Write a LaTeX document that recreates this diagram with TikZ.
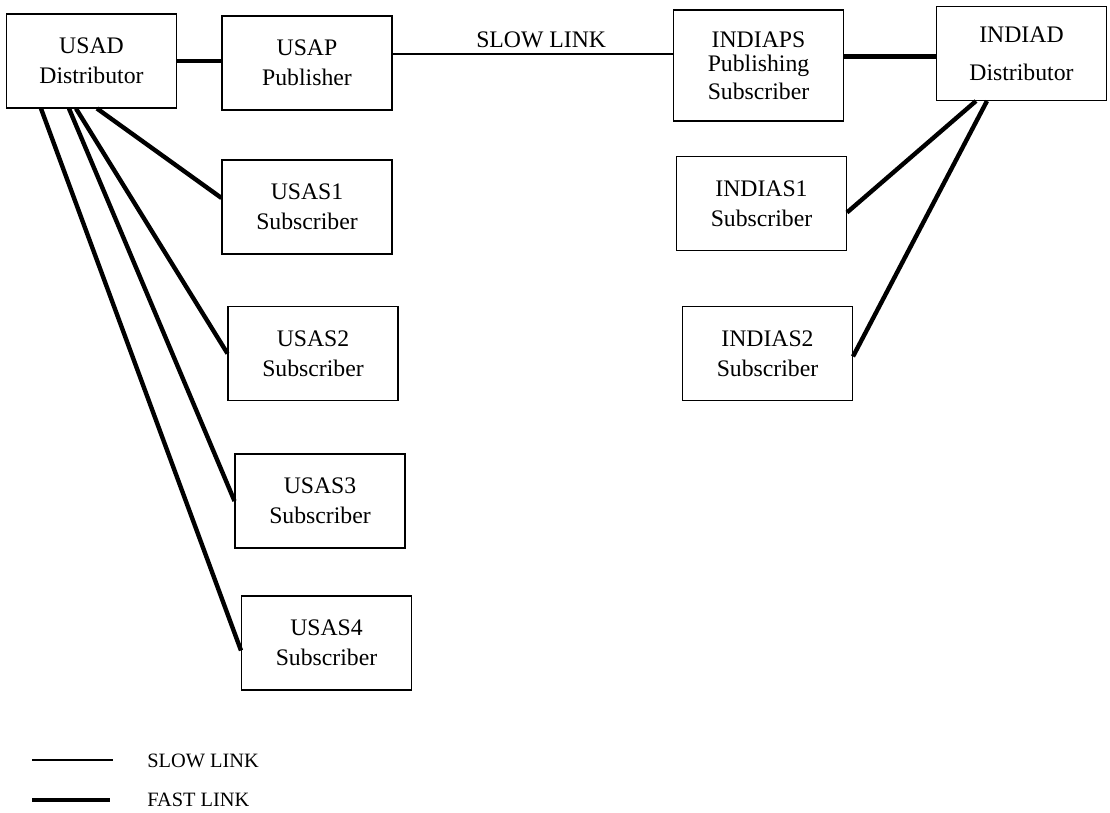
\documentclass[tikz,border=0pt]{standalone}
\usepackage{fontspec}
\setmainfont{Liberation Serif}

\begin{document}
\begin{tikzpicture}[x=0.02cm, y=-0.02cm,
  site/.style={shape=rectangle, draw, line width=0.6pt, inner sep=0pt,
    minimum width=3.4cm, minimum height=1.88cm, align=center,
    font=\fontsize{13.5}{17}\selectfont},
  slowlink/.style={line width=0.8pt},
  fastlink/.style={line width=2.5pt}]
\useasboundingbox (0,0) rectangle (1110,813);
\node     (usad) at (91.5, 61)   [site] {USAD\\Distributor};
\node     (usap) at (307, 63)    [site] {USAP\\Publisher};
\node    (usas1) at (307, 207)   [site] {USAS1\\Subscriber};
\node    (usas2) at (313, 353.5) [site] {USAS2\\Subscriber};
\node    (usas3) at (320, 501)   [site] {USAS3\\Subscriber};
\node    (usas4) at (326.5, 643) [site] {USAS4\\Subscriber};
\node  (indiaps) at (758.5, 65.5) [site, minimum height=2.22cm] {INDIAPS\\[-3.5pt]Publishing\\[-1pt]Subscriber};
\node   (indiad) at (1021.5, 53.5) [site] {INDIAD\\[4.5pt]Distributor};
\node  (indias1) at (761.5, 203.5) [site] {INDIAS1\\Subscriber};
\node  (indias2) at (767.5, 353.5) [site] {INDIAS2\\Subscriber};
\draw [fastlink] (usad.east) -- (usad.east -| usap.west);
\draw [slowlink] (usap.6) -- node [above, pos=0.53, font=\fontsize{13.5}{17}\selectfont] (slowlabel) {SLOW LINK} (usap.6 -| indiaps.west);
\draw [fastlink] (indiaps.6) -- (indiaps.6 -| indiad.west);
\draw [fastlink] ([xshift=1.82cm]usad.south west) -- (usas1.174);
\draw [fastlink] ([xshift=1.4cm]usad.south west) -- (usas2.west);
\draw [fastlink] ([xshift=1.26cm]usad.south west) -- (usas3.west);
\draw [fastlink] ([xshift=0.7cm]usad.south west) -- (usas4.185);
\draw [fastlink] ([xshift=0.8cm]indiad.south west) -- (indias1.-6);
\draw [fastlink] ([xshift=1.02cm]indiad.south west) -- (indias2.-2);
\coordinate (slowa) at (32, 760);
\coordinate (slowb) at (113, 760);
\coordinate (fasta) at (32, 800);
\coordinate (fastb) at (110, 800);
\draw [slowlink] (slowa) -- (slowb);
\draw [fastlink] (fasta) -- (fastb);
\node (slowkey) at (147, 761) [anchor=west, inner sep=0pt, font=\fontsize{11.6}{14}\selectfont] {SLOW LINK};
\node (fastkey) at (147, 800) [anchor=west, inner sep=0pt, font=\fontsize{11.6}{14}\selectfont] {FAST LINK};
\end{tikzpicture}
\end{document}
